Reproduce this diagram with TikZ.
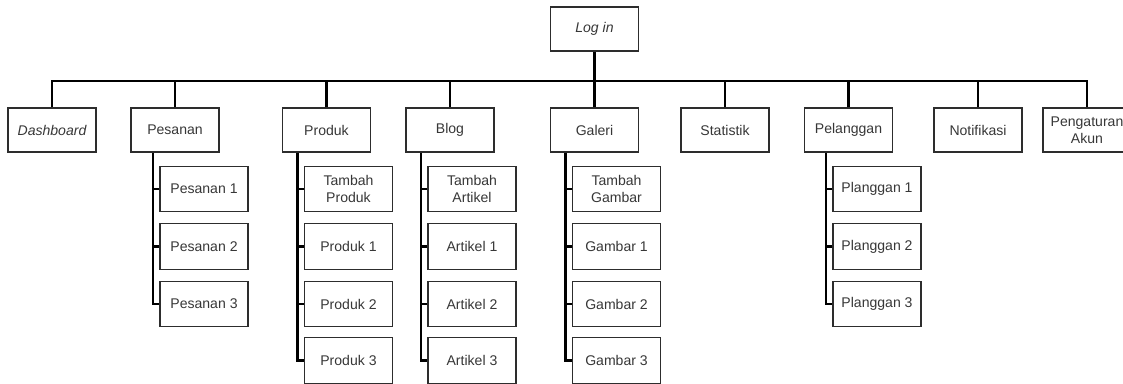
\documentclass[tikz,border=0pt]{standalone}
\usepackage{fontspec}
\setmainfont{Liberation Sans}
\usetikzlibrary{positioning}
\definecolor{boxline}{RGB}{45,45,45}
\definecolor{txt}{RGB}{55,55,55}
\tikzset{
  menu/.style={draw=boxline, line width=0.8pt, text=txt, minimum width=1.76cm,
               minimum height=0.88cm, align=center, inner sep=1pt,
               font=\fontsize{8}{9.5}\selectfont},
  submenu/.style={menu, minimum height=0.91cm},
  link/.style={line width=1.4pt, black},
}

\begin{document}
\begin{tikzpicture}[x=0.02cm, y=-0.02cm]
      \useasboundingbox (0,0) rectangle (1123,383);
      % top
      \node[menu, font=\fontsize{8}{9.5}\selectfont\itshape] (login) at (594.5,29) {Log in};
      \coordinate (bus) at (594.5,81);
      % level 1
      \node[menu, font=\fontsize{8}{9.5}\selectfont\itshape] (dash) at (52,130) {Dashboard};
      \node[menu] (pes)   at (175,130)   {Pesanan};
      \node[menu] (prod)  at (326.5,130) {Produk};
      \node[menu] (blog)  at (450,130)   {Blog};
      \node[menu] (gal)   at (594.5,130) {Galeri};
      \node[menu] (stat)  at (725,130)   {Statistik};
      \node[menu] (pel)   at (848.5,130) {Pelanggan};
      \node[menu] (notif) at (978,130)   {Notifikasi};
      \node[menu] (akun)  at (1087,130)  {Pengaturan\\Akun};
      % Pesanan
      \node[submenu] (pes1) at (204,189)   {Pesanan 1};
      \node[submenu] (pes2) at (204,246.5) {Pesanan 2};
      \node[submenu] (pes3) at (204,304)   {Pesanan 3};
      % Produk
      \node[submenu] (prod0) at (348.5,189)   {Tambah\\Produk};
      \node[submenu] (prod1) at (348.5,246.5) {Produk 1};
      \node[submenu] (prod2) at (348.5,304)   {Produk 2};
      \node[submenu] (prod3) at (348.5,360.5) {Produk 3};
      % Blog
      \node[submenu] (blog0) at (472,189)   {Tambah\\Artikel};
      \node[submenu] (blog1) at (472,246.5) {Artikel 1};
      \node[submenu] (blog2) at (472,304)   {Artikel 2};
      \node[submenu] (blog3) at (472,360.5) {Artikel 3};
      % Galeri
      \node[submenu] (gal0) at (616.5,189)   {Tambah\\Gambar};
      \node[submenu] (gal1) at (616.5,246.5) {Gambar 1};
      \node[submenu] (gal2) at (616.5,304)   {Gambar 2};
      \node[submenu] (gal3) at (616.5,360.5) {Gambar 3};
      % Pelanggan
      \node[submenu] (pel1) at (877,189)   {Planggan 1};
      \node[submenu] (pel2) at (877,246.5) {Planggan 2};
      \node[submenu] (pel3) at (877,304)   {Planggan 3};

      % connectors
      \draw[link] (login.south) -- (bus);
      \draw[link] (dash.north) -- (dash.north |- bus) -- (akun.north |- bus) -- (akun.north);
      \foreach \n in {pes,prod,blog,gal,stat,pel,notif}
        \draw[link] (\n.north) -- (\n.north |- bus);

      \coordinate (pesT)  at ([xshift=-0.13cm]pes1.west);
      \coordinate (prodT) at ([xshift=-0.13cm]prod0.west);
      \coordinate (blogT) at ([xshift=-0.13cm]blog0.west);
      \coordinate (galT)  at ([xshift=-0.13cm]gal0.west);
      \coordinate (pelT)  at ([xshift=-0.13cm]pel1.west);
      \draw[link] (pesT |- pes.south) |- (pes3.west);
      \draw[link] (prodT |- prod.south) |- (prod3.west);
      \draw[link] (blogT |- blog.south) |- (blog3.west);
      \draw[link] (galT |- gal.south) |- (gal3.west);
      \draw[link] (pelT |- pel.south) |- (pel3.west);
      \foreach \c in {pes1,pes2,pel1,pel2}
        \draw[link] (\c.west) -- ++(-0.13cm,0);
      \foreach \c in {prod,blog,gal}{
        \draw[link] (\c0.west) -- ++(-0.13cm,0);
        \draw[link] (\c1.west) -- ++(-0.13cm,0);
        \draw[link] (\c2.west) -- ++(-0.13cm,0);
      }
    \end{tikzpicture}
\end{document}
